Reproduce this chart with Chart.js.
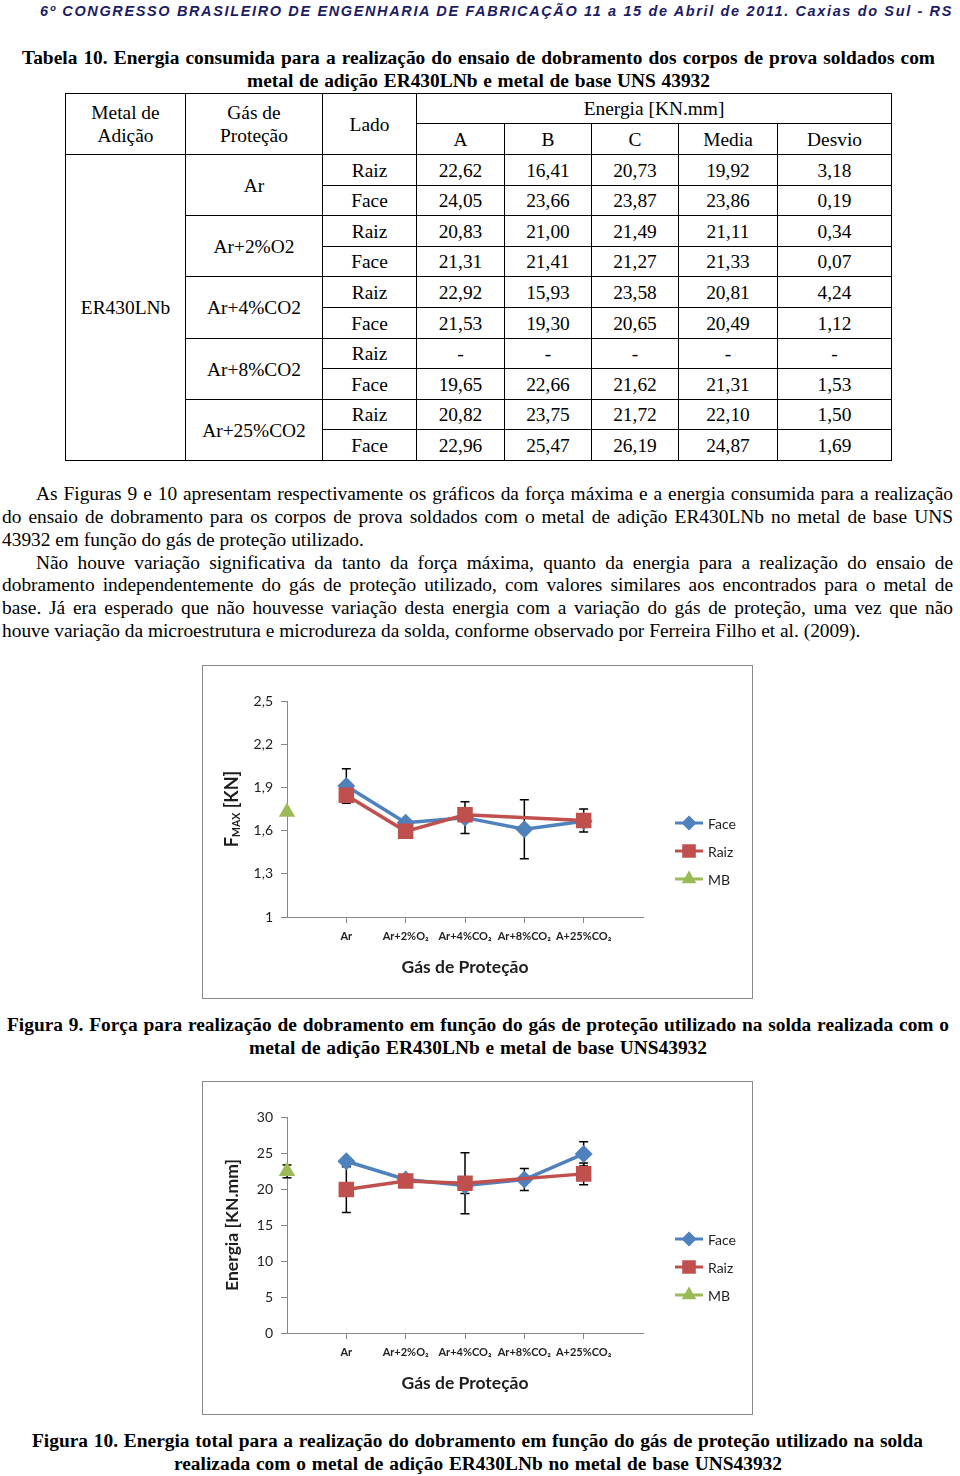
<!DOCTYPE html>
<html lang="pt-BR">
<head>
<meta charset="utf-8">
<title>Tabela 10 - Figuras 9 e 10</title>
<script src="https://cdn.jsdelivr.net/npm/chart.js@4.4.1/dist/chart.umd.min.js"></script>
<style>
  html, body { margin: 0; padding: 0; background: #fff; }
  body { position: relative; width: 960px; height: 1476px; overflow: hidden; font-family: "Liberation Serif", "Times New Roman", serif; font-size: 19.4px; color: #000; }
  .ln { position: absolute; height: 23px; line-height: 23px; }
  .left { white-space: nowrap; }
  .jf { text-align: justify; text-align-last: justify; }
  .b { font-weight: bold; }
  #header { position: absolute; left: 40px; top: 2px; font: italic bold 14.5px "Liberation Sans", Arial, sans-serif; color: #1c1c64; white-space: nowrap; line-height: 18px; }
  table.t { position: absolute; left: 65px; top: 93px; border-collapse: collapse; table-layout: fixed; width: 826px; }
  table.t td { border: 1px solid #000; padding: 0; text-align: center; vertical-align: middle; line-height: 23px; }
  .box { position: absolute; left: 202px; width: 549px; height: 332px; border: 1px solid #8a8a8a; background: #fff; }
  .box canvas { display: block; }
</style>
</head>
<body>

<div id="header">6º CONGRESSO BRASILEIRO DE ENGENHARIA DE FABRICAÇÃO 11 a 15 de Abril de 2011. Caxias do Sul - RS</div>

<div class="ln jf b" style="left:22px;top:46px;width:913px">Tabela 10. Energia consumida para a realização do ensaio de dobramento dos corpos de prova soldados com</div>
<div class="ln jf b" style="left:247px;top:69px;width:463px">metal de adição ER430LNb e metal de base UNS 43932</div>

<table class="t" id="tabela">
  <colgroup>
    <col style="width:120px"><col style="width:137px"><col style="width:94px"><col style="width:88px">
    <col style="width:87px"><col style="width:87px"><col style="width:99px"><col style="width:114px">
  </colgroup>
  <tbody id="tabelaBody"></tbody>
</table>

<div class="ln jf" style="left:36px;top:482px;width:917px">As Figuras 9 e 10 apresentam respectivamente os gráficos da força máxima e a energia consumida para a realização</div>
<div class="ln jf" style="left:2px;top:505px;width:951px">do ensaio de dobramento para os corpos de prova soldados com o metal de adição ER430LNb no metal de base UNS</div>
<div class="ln left" style="left:2px;top:528px">43932 em função do gás de proteção utilizado.</div>
<div class="ln jf" style="left:36px;top:551px;width:917px">Não houve variação significativa da tanto da força máxima, quanto da energia para a realização do ensaio de</div>
<div class="ln jf" style="left:2px;top:573px;width:951px">dobramento independentemente do gás de proteção utilizado, com valores similares aos encontrados para o metal de</div>
<div class="ln jf" style="left:2px;top:596px;width:951px">base. Já era esperado que não houvesse variação desta energia com a variação do gás de proteção, uma vez que não</div>
<div class="ln left" style="left:2px;top:619px">houve variação da microestrutura e microdureza da solda, conforme observado por Ferreira Filho et al. (2009).</div>

<div class="box" style="top:665px"><canvas id="forceChart" width="549" height="332"></canvas></div>

<div class="ln jf b" style="left:7px;top:1013px;width:942px">Figura 9. Força para realização de dobramento em função do gás de proteção utilizado na solda realizada com o</div>
<div class="ln jf b" style="left:249px;top:1036px;width:458px">metal de adição ER430LNb e metal de base UNS43932</div>

<div class="box" style="top:1081px"><canvas id="energyChart" width="549" height="332"></canvas></div>

<div class="ln jf b" style="left:32px;top:1429px;width:891px">Figura 10. Energia total para a realização do dobramento em função do gás de proteção utilizado na solda</div>
<div class="ln jf b" style="left:174px;top:1452px;width:608px">realizada com o metal de adição ER430LNb no metal de base UNS43932</div>

<script>
// categorias do eixo x (posição 0 = metal de base, no eixo)
const gasLabels = ["Ar", "Ar+2%O\u2082", "Ar+4%CO\u2082", "Ar+8%CO\u2082", "A+25%CO\u2082"];
const categories = ["", ...gasLabels, ""];

// Figura 9 - força máxima [KN]
const forceFace = [null, 1.91, 1.655, 1.69, 1.61, 1.665, null];
const forceRaiz = [null, 1.845, 1.595, 1.71, null, 1.67, null];
const forceMB = [1.73, null, null, null, null, null, null];
const forceFaceErr = [0, 0.12, 0, 0.11, 0.205, 0, 0];
const forceRaizErr = [0, 0, 0, 0, 0, 0.08, 0];
const forceMBErr = [0, 0, 0, 0, 0, 0, 0];
const forceTicks = { min: 1, max: 2.5, step: 0.3 };

// Figura 10 - energia [KN.mm] (médias e desvios da Tabela 10)
const energyFace = [null, 23.86, 21.33, 20.49, 21.31, 24.87, null];
const energyRaiz = [null, 19.92, 21.11, 20.81, null, 22.10, null];
const energyMB = [22.45, null, null, null, null, null, null];
const energyFaceErr = [0, 0.19, 0.07, 1.12, 1.53, 1.69, 0];
const energyRaizErr = [0, 3.18, 0.34, 4.24, 0, 1.50, 0];
const energyMBErr = [0.88, 0, 0, 0, 0, 0, 0];
const energyTicks = { min: 0, max: 30, step: 5 };

// Tabela 10
const tableGases = ["Ar", "Ar+2%O2", "Ar+4%CO2", "Ar+8%CO2", "Ar+25%CO2"];
const tableRaiz = [
    ["22,62", "16,41", "20,73", "19,92", "3,18"],
    ["20,83", "21,00", "21,49", "21,11", "0,34"],
    ["22,92", "15,93", "23,58", "20,81", "4,24"],
    ["-", "-", "-", "-", "-"],
    ["20,82", "23,75", "21,72", "22,10", "1,50"],
];
const tableFace = [
    ["24,05", "23,66", "23,87", "23,86", "0,19"],
    ["21,31", "21,41", "21,27", "21,33", "0,07"],
    ["21,53", "19,30", "20,65", "20,49", "1,12"],
    ["19,65", "22,66", "21,62", "21,31", "1,53"],
    ["22,96", "25,47", "26,19", "24,87", "1,69"],
];
const rowHeights = [31, 30, 31, 30, 31, 31, 30, 31, 30, 31];

const FONT = 'Lato, "DejaVu Sans", sans-serif';
const INK = "#1e1e1e";
const AXIS = "#868686";

// cabeçalho com espaçamento ajustado à largura da página
const header = document.getElementById("header");
const headerWidth = header.getBoundingClientRect().width;
header.style.letterSpacing = ((913 - headerWidth) / header.textContent.length) + "px";

function buildTable() {
    const body = document.getElementById("tabelaBody");
    let html = '<tr style="height:30px"><td rowspan="2">Metal de<br>Adição</td><td rowspan="2">Gás de<br>Proteção</td>'
        + '<td rowspan="2">Lado</td><td colspan="5">Energia [KN.mm]</td></tr>'
        + '<tr style="height:31px"><td>A</td><td>B</td><td>C</td><td>Media</td><td>Desvio</td></tr>';
    tableGases.forEach((gas, i) => {
        const first = i === 0 ? '<td rowspan="10">ER430LNb</td>' : "";
        html += `<tr style="height:${rowHeights[i * 2]}px">${first}<td rowspan="2">${gas}</td><td>Raiz</td>`
            + tableRaiz[i].map((v) => `<td>${v}</td>`).join("") + "</tr>";
        html += `<tr style="height:${rowHeights[i * 2 + 1]}px"><td>Face</td>`
            + tableFace[i].map((v) => `<td>${v}</td>`).join("") + "</tr>";
    });
    body.innerHTML = html;
}
buildTable();

Chart.defaults.font.family = FONT;
Chart.defaults.color = INK;

// barras de desvio, desenhadas por baixo das séries
const errorBars = {
    id: "errorBars",
    beforeDatasetsDraw(chart) {
        const { ctx, scales: { x, y } } = chart;
        ctx.save();
        ctx.strokeStyle = "#000";
        ctx.lineWidth = 1.5;
        chart.data.datasets.forEach((ds) => {
            (ds.errors || []).forEach((err, i) => {
                const v = ds.data[i];
                if (v == null || !err) return;
                const px = x.getPixelForValue(i);
                const top = y.getPixelForValue(v + err);
                const bottom = y.getPixelForValue(v - err);
                ctx.beginPath();
                ctx.moveTo(px, top);
                ctx.lineTo(px, bottom);
                ctx.moveTo(px - 4.5, top);
                ctx.lineTo(px + 4.5, top);
                ctx.moveTo(px - 4.5, bottom);
                ctx.lineTo(px + 4.5, bottom);
                ctx.stroke();
            });
        });
        ctx.restore();
    },
};

const sideLegend = {
    id: "sideLegend",
    afterDraw(chart) {
        const { ctx, chartArea } = chart;
        const x0 = chartArea.right + 32;
        chart.data.datasets.forEach((ds, i) => {
            const y = chartArea.top + 122 + i * 28;
            ctx.save();
            ctx.strokeStyle = ds.borderColor;
            ctx.lineWidth = 3;
            ctx.beginPath();
            ctx.moveTo(x0, y);
            ctx.lineTo(x0 + 28, y);
            ctx.stroke();
            ctx.fillStyle = ds.backgroundColor;
            Chart.helpers.drawPoint(ctx, { pointStyle: ds.pointStyle, radius: ds.legendRadius, borderWidth: 1, rotation: 0 }, x0 + 14, y);
            ctx.fillStyle = INK;
            ctx.font = `14px ${FONT}`;
            ctx.textBaseline = "middle";
            ctx.fillText(ds.label, x0 + 33, y + 1);
            ctx.restore();
        });
    },
};

const yTitle = {
    id: "yTitle",
    afterDraw(chart, args, opts) {
        const { ctx, chartArea } = chart;
        const parts = opts.parts || [];
        ctx.save();
        ctx.translate(chartArea.left - 55, (chartArea.top + chartArea.bottom) / 2);
        ctx.rotate(-Math.PI / 2);
        ctx.fillStyle = INK;
        const widths = parts.map((p) => {
            ctx.font = `bold ${p.size}px ${FONT}`;
            return ctx.measureText(p.text).width;
        });
        let x = -widths.reduce((a, b) => a + b, 0) / 2;
        parts.forEach((p, i) => {
            ctx.font = `bold ${p.size}px ${FONT}`;
            ctx.fillText(p.text, x, 6 + (p.dy || 0));
            x += widths[i];
        });
        ctx.restore();
    },
};

function tickText(v) {
    return Number.isInteger(v) ? String(v) : v.toFixed(1).replace(".", ",");
}

function makeChart(id, face, raiz, mb, faceErr, raizErr, mbErr, range, titleParts) {
    return new Chart(document.getElementById(id), {
        type: "line",
        data: {
            labels: categories,
            datasets: [
                {
                    label: "Face", data: face, errors: faceErr,
                    borderColor: "#4F81BD", backgroundColor: "#4F81BD",
                    pointStyle: "rectRot", pointRadius: 6.5, legendRadius: 5.5, borderWidth: 3.5,
                    spanGaps: true, clip: false, order: 1,
                },
                {
                    label: "Raiz", data: raiz, errors: raizErr,
                    borderColor: "#C0504D", backgroundColor: "#C0504D",
                    pointStyle: "rect", pointRadius: 8.5, legendRadius: 7.5, borderWidth: 3.5,
                    spanGaps: true, clip: false, order: 0,
                },
                {
                    label: "MB", data: mb, errors: mbErr,
                    borderColor: "#9BBB59", backgroundColor: "#9BBB59",
                    pointStyle: "triangle", pointRadius: 6.5, legendRadius: 5.5, borderWidth: 3,
                    clip: false, order: 2,
                },
            ],
        },
        options: {
            responsive: false,
            animation: false,
            events: [],
            layout: { padding: { top: 35, right: 109, bottom: 20, left: 0 } },
            plugins: {
                legend: { display: false },
                tooltip: { enabled: false },
                yTitle: { parts: titleParts },
            },
            scales: {
                x: {
                    offset: false,
                    grid: {
                        drawOnChartArea: false,
                        tickLength: 6,
                        color: (c) => (c.index === 0 || c.index === categories.length - 1 ? "transparent" : AXIS),
                    },
                    border: { color: AXIS, width: 1 },
                    ticks: { autoSkip: false, maxRotation: 0, padding: 7, color: INK, font: { size: 11, weight: "bold" } },
                    title: {
                        display: true, text: "Gás de Proteção", color: INK,
                        font: { size: 17.5, weight: "bold" }, padding: { top: 0, bottom: 0 },
                    },
                    afterFit: (scale) => { scale.height = 61; },
                },
                y: {
                    min: range.min,
                    max: range.max,
                    grid: { drawOnChartArea: false, tickLength: 6, color: AXIS },
                    border: { color: AXIS, width: 1 },
                    ticks: { stepSize: range.step, padding: 8, color: INK, font: { size: 14 }, callback: tickText },
                    afterFit: (scale) => { scale.width = 84; },
                },
            },
        },
        plugins: [errorBars, sideLegend, yTitle],
    });
}

makeChart("forceChart", forceFace, forceRaiz, forceMB, forceFaceErr, forceRaizErr, forceMBErr, forceTicks, [
    { text: "F", size: 18 },
    { text: "MAX", size: 10.5, dy: 2 },
    { text: " [KN]", size: 18 },
]);

makeChart("energyChart", energyFace, energyRaiz, energyMB, energyFaceErr, energyRaizErr, energyMBErr, energyTicks, [
    { text: "Energia [KN.mm]", size: 17.5 },
]);
</script>
</body>
</html>
